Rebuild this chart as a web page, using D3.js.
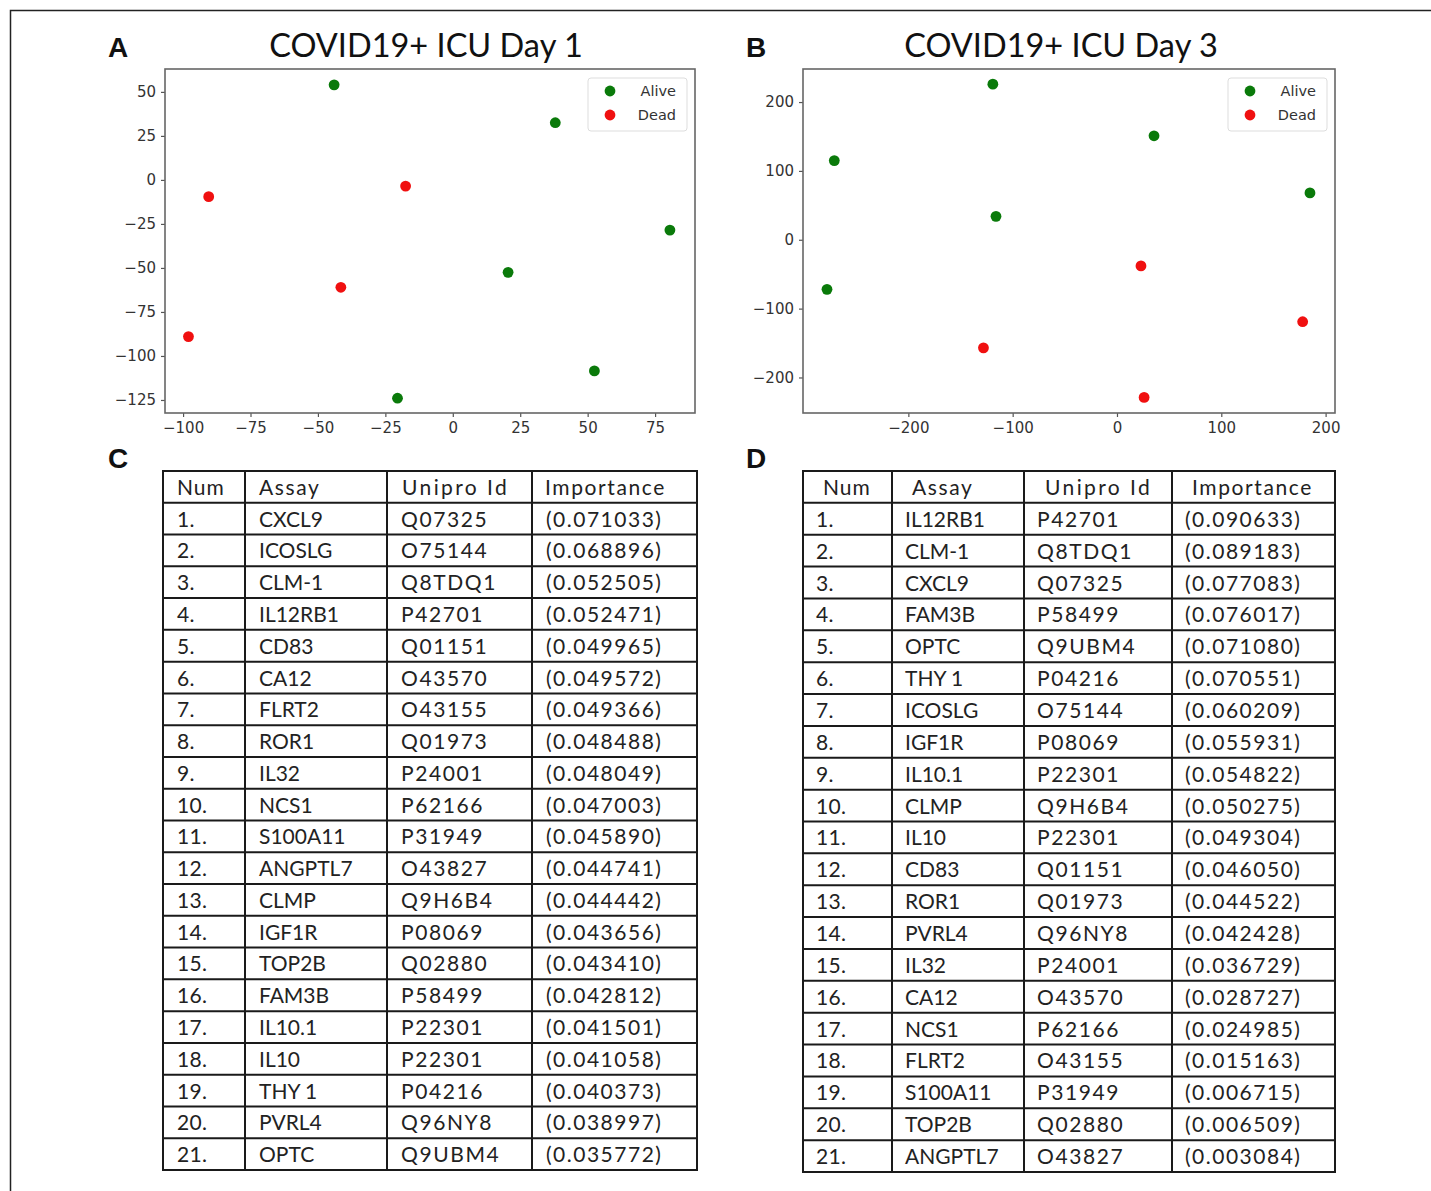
<!DOCTYPE html>
<html lang="en">
<head>
  <meta charset="UTF-8" />
  <title>COVID19+ ICU tSNE and feature importance</title>
  <script src="https://d3js.org/d3.v7.min.js"></script>
  <style>
    body {
      margin: 0;
      background: #fff;
    }
    svg {
      display: block;
    }
    .tick text {
      font: 15px 'DejaVu Sans', sans-serif;
      fill: #333;
    }
    .panel-letter {
      font: bold 28px 'Liberation Sans', Arial, sans-serif;
      fill: #111;
    }
    .title {
      font: 32.5px Lato, 'Open Sans', sans-serif;
      fill: #111;
    }
    .legend text {
      font: 14.5px 'DejaVu Sans', sans-serif;
      fill: #333;
    }
    .cell {
      font: 21px Lato, 'Open Sans', sans-serif;
      fill: #222;
    }
  </style>
</head>
<body>
  <svg width="1431" height="1191"></svg>

  <script>
    // ---- scatter data ----
    const day1Alive = [[-44, 54], [38, 32.5], [80.5, -28.5], [20.5, -52.5], [52.5, -108.5], [-20.5, -124]];
    const day1Dead = [[-90.5, -9.5], [-17.5, -3.5], [-41.5, -61], [-98, -89]];
    const day3Alive = [[-119, 226], [-271, 115], [35.5, 151], [-116, 34], [185, 68], [-278, -72]];
    const day3Dead = [[23, -38], [178, -119], [-128, -157], [26, -229]];

    const day1XTicks = [-100, -75, -50, -25, 0, 25, 50, 75];
    const day1YTicks = [50, 25, 0, -25, -50, -75, -100, -125];
    const day3XTicks = [-200, -100, 0, 100, 200];
    const day3YTicks = [200, 100, 0, -100, -200];

    // ---- table data ----
    const tableHeader = ["Num", "Assay", "Unipro Id", "Importance"];
    const day1Assay = ["CXCL9", "ICOSLG", "CLM-1", "IL12RB1", "CD83", "CA12", "FLRT2", "ROR1", "IL32", "NCS1",
      "S100A11", "ANGPTL7", "CLMP", "IGF1R", "TOP2B", "FAM3B", "IL10.1", "IL10", "THY 1", "PVRL4", "OPTC"];
    const day1Uniprot = ["Q07325", "O75144", "Q8TDQ1", "P42701", "Q01151", "O43570", "O43155", "Q01973", "P24001", "P62166",
      "P31949", "O43827", "Q9H6B4", "P08069", "Q02880", "P58499", "P22301", "P22301", "P04216", "Q96NY8", "Q9UBM4"];
    const day1Importance = ["0.071033", "0.068896", "0.052505", "0.052471", "0.049965", "0.049572", "0.049366", "0.048488",
      "0.048049", "0.047003", "0.045890", "0.044741", "0.044442", "0.043656", "0.043410", "0.042812", "0.041501",
      "0.041058", "0.040373", "0.038997", "0.035772"];

    const day3Assay = ["IL12RB1", "CLM-1", "CXCL9", "FAM3B", "OPTC", "THY 1", "ICOSLG", "IGF1R", "IL10.1", "CLMP",
      "IL10", "CD83", "ROR1", "PVRL4", "IL32", "CA12", "NCS1", "FLRT2", "S100A11", "TOP2B", "ANGPTL7"];
    const day3Uniprot = ["P42701", "Q8TDQ1", "Q07325", "P58499", "Q9UBM4", "P04216", "O75144", "P08069", "P22301", "Q9H6B4",
      "P22301", "Q01151", "Q01973", "Q96NY8", "P24001", "O43570", "P62166", "O43155", "P31949", "Q02880", "O43827"];
    const day3Importance = ["0.090633", "0.089183", "0.077083", "0.076017", "0.071080", "0.070551", "0.060209", "0.055931",
      "0.054822", "0.050275", "0.049304", "0.046050", "0.044522", "0.042428", "0.036729", "0.028727", "0.024985",
      "0.015163", "0.006715", "0.006509", "0.003084"];

    const svg = d3.select("svg");

    // outer frame (open at right and bottom, as in the cropped figure)
    svg.append("path")
      .attr("d", "M10.5,1191 L10.5,10.5 L1431,10.5")
      .attr("fill", "none")
      .attr("stroke", "#222")
      .attr("stroke-width", 1.5);

    function scatter(opts) {
      const { left, right, top, bottom, xDomain, yDomain, xTicks, yTicks, alive, dead, title, titleX, letter, letterX } = opts;
      const x = d3.scaleLinear().domain(xDomain).range([left, right]);
      const y = d3.scaleLinear().domain(yDomain).range([bottom, top]);
      const g = svg.append("g");

      g.append("text").attr("class", "panel-letter").attr("x", letterX).attr("y", 57).text(letter);
      g.append("text").attr("class", "title").attr("x", titleX).attr("y", 57)
        .attr("text-anchor", "middle").text(title);

      g.append("g")
        .attr("transform", `translate(0,${bottom})`)
        .call(d3.axisBottom(x).tickValues(xTicks).tickSize(4).tickPadding(5))
        .call(a => a.select(".domain").remove())
        .call(a => a.selectAll(".tick line").attr("stroke", "#555").attr("stroke-width", 1.2));

      g.append("g")
        .attr("transform", `translate(${left},0)`)
        .call(d3.axisLeft(y).tickValues(yTicks).tickSize(4).tickPadding(5))
        .call(a => a.select(".domain").remove())
        .call(a => a.selectAll(".tick line").attr("stroke", "#555").attr("stroke-width", 1.2));

      g.append("rect")
        .attr("x", left).attr("y", top)
        .attr("width", right - left).attr("height", bottom - top)
        .attr("fill", "none").attr("stroke", "#666").attr("stroke-width", 1.6);

      g.append("g").selectAll("circle").data(alive).join("circle")
        .attr("cx", d => x(d[0])).attr("cy", d => y(d[1])).attr("r", 5.4)
        .attr("fill", "#0a7a0a");
      g.append("g").selectAll("circle").data(dead).join("circle")
        .attr("cx", d => x(d[0])).attr("cy", d => y(d[1])).attr("r", 5.4)
        .attr("fill", "#f01010");

      // legend
      const lg = g.append("g").attr("class", "legend").attr("transform", `translate(${right - 107},${top + 9})`);
      lg.append("rect").attr("width", 99).attr("height", 53).attr("rx", 3)
        .attr("fill", "#fff").attr("stroke", "#ddd");
      [["Alive", "#0a7a0a"], ["Dead", "#f01010"]].forEach(([lab, col], i) => {
        lg.append("circle").attr("cx", 22).attr("cy", 13 + i * 24).attr("r", 5.4).attr("fill", col);
        lg.append("text").attr("x", 88).attr("y", 18 + i * 24).attr("text-anchor", "end").text(lab);
      });
    }

    scatter({
      left: 165, right: 695, top: 69, bottom: 413,
      xDomain: [-106.7, 89.8], yDomain: [-132.4, 63],
      xTicks: day1XTicks, yTicks: day1YTicks,
      alive: day1Alive, dead: day1Dead,
      title: "COVID19+ ICU Day 1", titleX: 426, letter: "A", letterX: 108
    });
    scatter({
      left: 803, right: 1335, top: 69, bottom: 413,
      xDomain: [-301, 209], yDomain: [-251.6, 248],
      xTicks: day3XTicks, yTicks: day3YTicks,
      alive: day3Alive, dead: day3Dead,
      title: "COVID19+ ICU Day 3", titleX: 1061, letter: "B", letterX: 746
    });

    // letter spacing per column: [Num, Assay, Unipro Id, Importance]
    const headSpacing = [1, 1.6, 2.4, 1.6];
    const cellSpacing = [0.3, 0, 1.6, 1.5];

    function table(opts) {
      const { cols, top, bottom, assay, uniprot, importance, letter, letterX, headPad, cellPad } = opts;
      const g = svg.append("g");
      g.append("text").attr("class", "panel-letter").attr("x", letterX).attr("y", 468).text(letter);

      const rows = [tableHeader].concat(assay.map((a, i) => [(i + 1) + ".", a, uniprot[i], "(" + importance[i] + ")"]));
      const yRow = d3.scaleBand().domain(d3.range(rows.length)).range([top, bottom]);

      rows.forEach((r, i) => {
        r.forEach((txt, j) => {
          g.append("text").attr("class", "cell")
            .attr("x", cols[j] + (i === 0 ? headPad[j] : cellPad))
            .attr("y", yRow(i) + yRow.bandwidth() / 2 + 8)
            .style("letter-spacing", (i === 0 ? headSpacing[j] : cellSpacing[j]) + "px")
            .text(txt);
        });
      });

      // grid lines
      const lines = g.append("g").attr("stroke", "#1a1a1a").attr("stroke-width", 2);
      d3.range(rows.length + 1).forEach(i => {
        const yy = i < rows.length ? yRow(i) : bottom;
        lines.append("line").attr("x1", cols[0] - 1).attr("x2", cols[cols.length - 1] + 1)
          .attr("y1", yy).attr("y2", yy);
      });
      cols.forEach(xx => {
        lines.append("line").attr("x1", xx).attr("x2", xx).attr("y1", top).attr("y2", bottom);
      });
    }

    table({
      cols: [163, 245, 387, 532, 697], top: 471, bottom: 1170,
      assay: day1Assay, uniprot: day1Uniprot, importance: day1Importance,
      letter: "C", letterX: 108, headPad: [14, 14, 15, 13], cellPad: 14
    });
    table({
      cols: [803, 892, 1024, 1172, 1335], top: 471, bottom: 1172,
      assay: day3Assay, uniprot: day3Uniprot, importance: day3Importance,
      letter: "D", letterX: 746, headPad: [20, 20, 21, 20], cellPad: 13
    });
  </script>
</body>
</html>
